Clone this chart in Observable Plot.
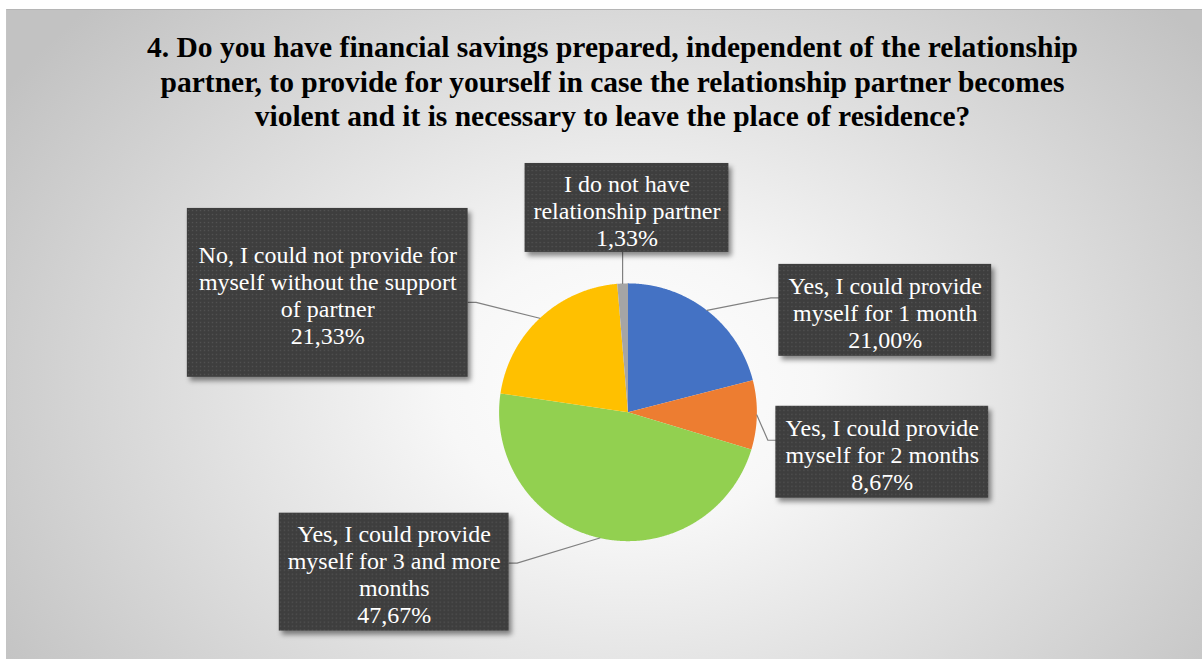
<!DOCTYPE html>
<html>
<head>
<meta charset="utf-8">
<script src="https://cdn.jsdelivr.net/npm/d3@7"></script>
<script src="https://cdn.jsdelivr.net/npm/@observablehq/plot@0.6"></script>
<style>
  html, body { margin: 0; padding: 0; background: #ffffff; }
  #page { position: relative; width: 1202px; height: 659px; overflow: hidden; background: #fff; }
  #area {
    position: absolute; left: 6px; top: 9px; width: 1196px; height: 650px;
    border-top: 1px solid #b5b5b5; border-left: 1px solid #c4c4c4; box-sizing: border-box;
    background: radial-gradient(ellipse 62% 85% at 52% 58%, #ffffff 0%, #f7f7f7 25%, #dedede 60%, #c2c2c2 100%);
  }
  #title {
    font-family: "Liberation Serif", "Times New Roman", serif; font-weight: bold;
    font-size: 29.5px; line-height: 34.5px; color: #000; text-align: center; white-space: nowrap;
    padding-top: 20px; padding-left: 16px; height: 103px; box-sizing: content-box;
  }
  #chart svg { display: block; overflow: visible; }
  .shadow { filter: blur(2.5px); }
</style>
</head>
<body>
<div id="page"><div id="area">
  <div id="title">4. Do you have financial savings prepared, independent of the relationship<br>partner, to provide for yourself in case the relationship partner becomes<br>violent and it is necessary to leave the place of residence?</div>
  <div id="chart"></div>
</div></div>
<script>
// ---- data ----
const categories = [
  "Yes, I could provide myself for 1 month",
  "Yes, I could provide myself for 2 months",
  "Yes, I could provide myself for 3 and more months",
  "No, I could not provide for myself without the support of partner",
  "I do not have relationship partner"
];
const values = [21.00, 8.67, 47.67, 21.33, 1.33];
const labelTexts = [
  "Yes, I could provide\nmyself for 1 month",
  "Yes, I could provide\nmyself for 2 months",
  "Yes, I could provide\nmyself for 3 and more\nmonths",
  "No, I could not provide for\nmyself without the support\nof partner",
  "I do not have\nrelationship partner"
];

// ---- style / layout ----
const colors = ["#4472C4", "#ED7D31", "#92D050", "#FFC000", "#A5A5A5"];
const W = 1196, H = 526;
const cx = 621, cy = 279, R = 129;
// label boxes: [x1, x2, y1, y2], side the leader connects to, anchor y
const boxes = [
  {x1: 772, x2: 985, y1: 131, y2: 223, side: "left", ay: 164.5},
  {x1: 769, x2: 982, y1: 273, y2: 365, side: "left", ay: 307},
  {x1: 272, x2: 502, y1: 380, y2: 498, side: "right", ay: 430},
  {x1: 180, x2: 461, y1: 75, y2: 244, side: "right", ay: 169},
  {x1: 518, x2: 722, y1: 30, y2: 119, side: "bottom"}
];
const elbow = 8;

const fmt = v => v.toFixed(2).replace(".", ",") + "%";

const arcs = d3.pie().sort(null).value(d => d)(values);
const slicePts = [];
arcs.forEach((a, i) => {
  slicePts.push({k: categories[i], x: cx, y: cy});
  const n = Math.max(2, Math.ceil((a.endAngle - a.startAngle) / 0.005));
  for (let j = 0; j <= n; j++) {
    const t = a.startAngle + (a.endAngle - a.startAngle) * j / n;
    slicePts.push({k: categories[i], x: cx + R * Math.sin(t), y: cy - R * Math.cos(t)});
  }
});

const leaderPts = [];
arcs.forEach((a, i) => {
  const m = (a.startAngle + a.endAngle) / 2;
  const mx = cx + R * Math.sin(m), my = cy - R * Math.cos(m);
  const b = boxes[i];
  leaderPts.push({k: i, x: mx, y: my});
  if (b.side === "bottom") {
    leaderPts.push({k: i, x: mx, y: b.y2});
  } else if (b.side === "left") {
    leaderPts.push({k: i, x: b.x1 - elbow, y: b.ay});
    leaderPts.push({k: i, x: b.x1, y: b.ay});
  } else {
    leaderPts.push({k: i, x: b.x2 + elbow, y: b.ay});
    leaderPts.push({k: i, x: b.x2, y: b.ay});
  }
});

const labels = boxes.map((b, i) => ({
  ...b,
  text: labelTexts[i] + "\n" + fmt(values[i]),
  tx: (b.x1 + b.x2) / 2,
  ty: (b.y1 + b.y2) / 2 + 2
}));

const plot = Plot.plot({
  width: W, height: H,
  margin: 0,
  x: {domain: [0, W], range: [0, W], axis: null},
  y: {domain: [0, H], range: [0, H], axis: null},
  color: {domain: categories, range: colors},
  style: {background: "transparent", overflow: "visible"},
  marks: [
    Plot.line(slicePts, {x: "x", y: "y", z: "k", fill: "k", stroke: "none", curve: "linear-closed"}),
    Plot.line(leaderPts, {x: "x", y: "y", z: "k", stroke: "#808080", strokeWidth: 1.2}),
    Plot.rect(labels, {x1: "x1", x2: "x2", y1: "y1", y2: "y2", dx: 3, dy: 4, fill: "#000", fillOpacity: 0.45, className: "shadow"}),
    Plot.rect(labels, {x1: "x1", x2: "x2", y1: "y1", y2: "y2", fill: "url(#dots)"}),
    Plot.text(labels, {x: "tx", y: "ty", text: "text", fill: "#ffffff", fontSize: 24, lineHeight: 1.125,
      fontFamily: "Liberation Serif, Times New Roman, serif", textAnchor: "middle", lineAnchor: "middle"})
  ]
});

const defs = document.createElementNS("http://www.w3.org/2000/svg", "defs");
defs.innerHTML = `<pattern id="dots" width="4" height="4" patternUnits="userSpaceOnUse">
  <rect width="4" height="4" fill="#3e3e3e"/><rect x="1" y="1" width="1.2" height="1.2" fill="#575757"/></pattern>`;
plot.insertBefore(defs, plot.firstChild);
document.getElementById("chart").appendChild(plot);
</script>
</body>
</html>
